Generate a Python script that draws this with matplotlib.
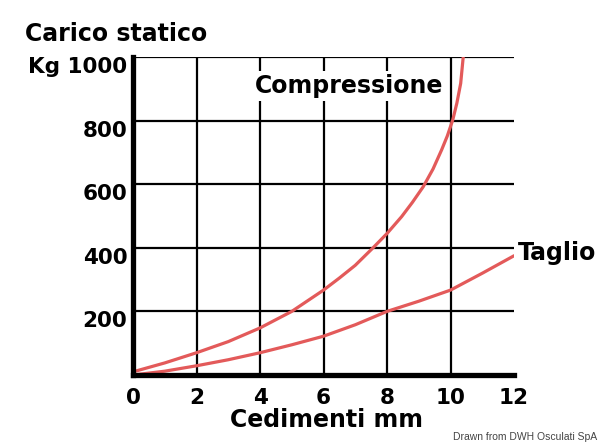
import numpy as np
import matplotlib
matplotlib.use("Agg")
import matplotlib.pyplot as plt
import matplotlib.transforms as mtransforms

# ---------------------------
# Data
# ---------------------------
comp_x = [0, 1, 2, 3, 4, 5, 6, 6.5, 7, 7.56, 8, 8.46, 8.8, 9.14, 9.45, 9.72, 9.9, 10.07, 10.2, 10.32, 10.4]
comp_y = [10, 38, 70, 105, 148, 200, 267, 305, 345, 400, 445, 498, 543, 592, 648, 708, 752, 802, 855, 917, 1000]

taglio_x = [0, 1, 2, 3, 4, 5, 6, 7, 8, 9, 10, 11, 12]
taglio_y = [0, 12, 29, 48, 70, 95, 122, 158, 200, 232, 267, 320, 375]

x_ticks = [0, 2, 4, 6, 8, 10, 12]
y_ticks = [0, 200, 400, 600, 800, 1000]
y_labels = ["", "200", "400", "600", "800", "Kg 1000"]

red = "#e35a5a"
font = "DejaVu Sans"

# ---------------------------
# Figure
# ---------------------------
fig = plt.figure(figsize=(6, 4.44), dpi=100)
ax = fig.add_axes([0.2217, 0.1554, 0.635, 0.7162])
ax.set_xlim(0, 12)
ax.set_ylim(0, 1000)

# grid: verticals only inside, horizontals across
ax.vlines(x_ticks[1:-1], 0, 1000, color="black", lw=1.6, zorder=1)
ax.hlines(y_ticks[1:], 0, 12, color="black", lw=1.6, zorder=1)

ax.plot(comp_x, comp_y, color=red, lw=2.3, zorder=4, solid_capstyle="round")
ax.plot(taglio_x, taglio_y, color=red, lw=2.3, zorder=4, solid_capstyle="round")

for s in ["top", "right"]:
    ax.spines[s].set_visible(False)
for s in ["left", "bottom"]:
    ax.spines[s].set_linewidth(3.8)
    ax.spines[s].set_zorder(5)

ax.set_xticks(x_ticks)
ax.set_xticklabels([str(v) for v in x_ticks])
ax.set_yticks(y_ticks)
ax.set_yticklabels(y_labels)
ax.tick_params(length=0)
ax.tick_params(axis="x", pad=9)
ax.tick_params(axis="y", pad=4)
for lab in ax.get_xticklabels() + ax.get_yticklabels():
    lab.set_fontfamily(font)
    lab.set_fontweight("bold")
    lab.set_fontsize(15.5)
    lab.set_color("black")

# move y labels down a bit, as in the original
shift = mtransforms.ScaledTranslation(0, -8 / 100, fig.dpi_scale_trans)
for lab in ax.get_yticklabels():
    lab.set_transform(lab.get_transform() + shift)

ax.text(3.84, 909, "Compressione", family=font, weight="bold", fontsize=17,
        va="center", ha="left", color="black", zorder=3,
        bbox=dict(facecolor="white", edgecolor="none", pad=2))
ax.text(12.12, 383, "Taglio", family=font, weight="bold", fontsize=17,
        va="center", ha="left", color="black", clip_on=False)

fig.text(25 / 600, 1 - 34 / 444, "Carico statico", family=font, weight="bold",
         fontsize=17, va="center", ha="left", color="black")
fig.text(327 / 600, 1 - 420 / 444, "Cedimenti mm", family=font, weight="bold",
         fontsize=17, va="center", ha="center", color="black")
fig.text(597 / 600, 1 - 437 / 444, "Drawn from DWH Osculati SpA",
         family="Liberation Sans", fontsize=7.5, va="center", ha="right",
         color="#444444")

fig.savefig("out.png", dpi=100)
